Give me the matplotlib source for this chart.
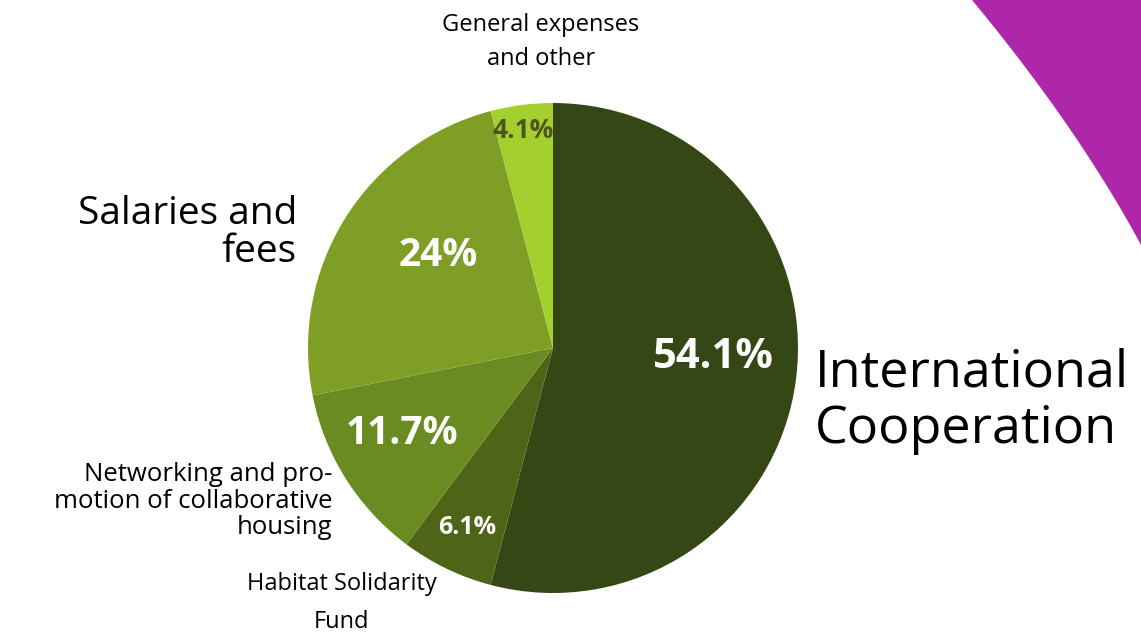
import matplotlib
matplotlib.use("Agg")
import matplotlib.pyplot as plt
from matplotlib.patches import Polygon
import numpy as np

categories = ["International\nCooperation", "Habitat Solidarity\nFund",
              "Networking and pro-\nmotion of collaborative\nhousing",
              "Salaries and\nfees", "General expenses\nand other"]
values = [54.1, 6.1, 11.7, 24.0, 4.1]
pct_labels = ["54.1%", "6.1%", "11.7%", "24%", "4.1%"]
colors = ["#364716", "#4e6518", "#6a8b22", "#7e9e25", "#a4d02f"]

W, H = 1141, 636
fig = plt.figure(figsize=(W / 100, H / 100), dpi=100)
ax = fig.add_axes([0, 0, 1, 1])

cx, cy, R = 553, H - 348, 245
wedges, _ = ax.pie(values, colors=colors, startangle=90, counterclock=False,
                   center=(cx, cy), radius=R,
                   wedgeprops=dict(linewidth=0))
ax.set_xlim(0, W)
ax.set_ylim(0, H)
ax.set_aspect("equal")
ax.axis("off")

# purple decorative shape at top right (smooth curved edge)
t = np.linspace(0, 1, 100)
p0, c, p2 = np.array([972, 0]), np.array([1078, 128]), np.array([1141, 245])
curve = ((1 - t)[:, None] ** 2) * p0 + (2 * t * (1 - t))[:, None] * c + (t[:, None] ** 2) * p2
pts = [(x, H - y) for x, y in curve] + [(W + 5, H - 245), (W + 5, H + 5), (972, H + 5)]
ax.add_patch(Polygon(pts, closed=True, facecolor="#ae27ab", edgecolor="none"))

fam = ["Open Sans", "DejaVu Sans"]
# percentage labels (positions in pixel coords)
pct_pos = [(713, 357, 30, "white"), (467, 527, 18, "white"), (402, 433, 28, "white"),
           (438, 255, 28, "white"), (523, 130, 19, "#4f5520")]
for lab, (x, y, s, c_) in zip(pct_labels, pct_pos):
    ax.text(x, H - y, lab, ha="center", va="center", fontsize=s, color=c_,
            fontweight="bold", family=fam)

# category labels
ax.text(815, H - 401, categories[0], ha="left", va="center", fontsize=37.5,
        family=fam, linespacing=1.15)
ax.text(342, H - 603, categories[1], ha="center", va="center", fontsize=17,
        family=fam, linespacing=1.75)
ax.text(332, H - 501, categories[2], ha="right", va="center", fontsize=18.5,
        family=fam, linespacing=1.07)
ax.text(297, H - 233, categories[3], ha="right", va="center", fontsize=28,
        family=fam, linespacing=1.0)
ax.text(541, H - 42, categories[4], ha="center", va="center", fontsize=17,
        family=fam, linespacing=1.6)

fig.savefig("out.png", dpi=100)
